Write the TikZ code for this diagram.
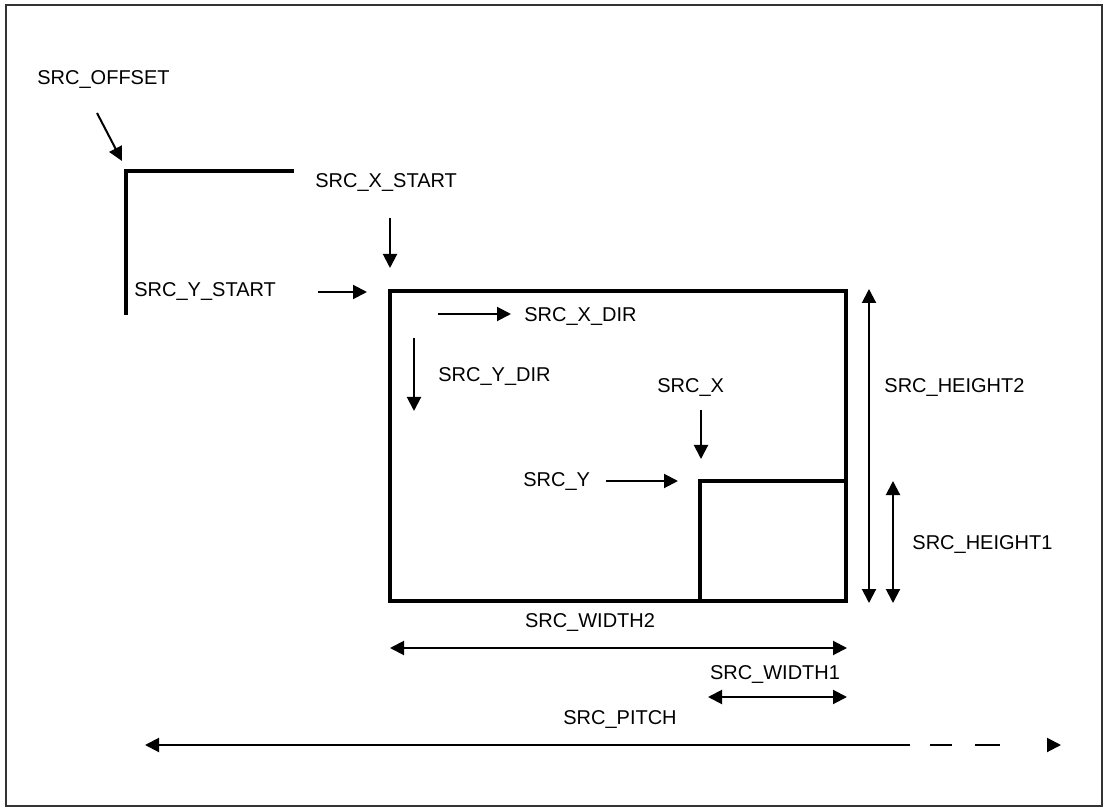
\documentclass[tikz,border=0pt]{standalone}
\usepackage{fontspec}
\setmainfont{Liberation Sans}
\usetikzlibrary{arrows.meta, positioning}

\begin{document}
\begin{tikzpicture}[
    x=0.5pt, y=-0.5pt,
    lbl/.style={inner sep=0pt, anchor=west, font=\fontsize{10}{12}\selectfont},
    ptr/.style={line width=1pt, -{Triangle[length=7pt,width=7pt]}},
    dim/.style={line width=1pt, {Triangle[length=7pt,width=7pt]}-{Triangle[length=7pt,width=7pt]}},
    frame/.style={line width=1.7pt}
]
    \useasboundingbox (0,0) rectangle (1108,812);
    \draw[line width=1pt, black!80] (6,5) rectangle (1102,806);

    % corner of the source surface
    \coordinate (org) at (126,171);
    \draw[frame] (294,171) -- (org) -- (126,315);

    % source rectangle and sub-rectangle
    \coordinate (rtl) at (390,291);
    \coordinate (rbr) at (846,601);
    \coordinate (stl) at (700,481);
    \draw[frame] (rtl) rectangle (rbr);
    \draw[frame] (stl |- rbr) -- (stl) -- (rbr |- stl);

    % labels
    \node (offset) [lbl] at (37,80) {SRC\_OFFSET};
    \node (xstart) [lbl] at (315,183) {SRC\_X\_START};
    \node (ystart) [lbl] at (134,292) {SRC\_Y\_START};
    \node (xdir) [lbl] at (524,317) {SRC\_X\_DIR};
    \node (ydir) [lbl] at (438,377) {SRC\_Y\_DIR};
    \node (srcx) [lbl] at (657,388) {SRC\_X};
    \node (srcy) [lbl] at (523,482) {SRC\_Y};
    \node (height2) [lbl] at (884,388) {SRC\_HEIGHT2};
    \node (height1) [lbl] at (912,545) {SRC\_HEIGHT1};
    \node (width2) [lbl, anchor=center] at (590,623) {SRC\_WIDTH2};
    \node (width1) [lbl, anchor=center] at (775,675) {SRC\_WIDTH1};
    \node (pitch) [lbl, anchor=center] at (620,720) {SRC\_PITCH};

    % pointers
    \coordinate (offA) at (97,113);   \coordinate (offB) at (122,161);
    \coordinate (xsA) at (390,218);   \coordinate (xsB) at (390,268);
    \coordinate (ysA) at (318,292);   \coordinate (ysB) at (367,292);
    \coordinate (xdA) at (438,314);   \coordinate (xdB) at (511,314);
    \coordinate (ydA) at (414,338);   \coordinate (ydB) at (414,411);
    \coordinate (sxA) at (701,410);   \coordinate (sxB) at (701,459);
    \coordinate (syA) at (606,481);   \coordinate (syB) at (678,481);
    \draw[ptr] (offA) -- (offB);
    \draw[ptr] (xsA) -- (xsB);
    \draw[ptr] (ysA) -- (ysB);
    \draw[ptr] (xdA) -- (xdB);
    \draw[ptr] (ydA) -- (ydB);
    \draw[ptr] (sxA) -- (sxB);
    \draw[ptr] (syA) -- (syB);

    % dimensions
    \coordinate (h2T) at (869,289);   \coordinate (h2B) at (869,603);
    \coordinate (h1T) at (893,481);   \coordinate (h1B) at (893,603);
    \coordinate (w2L) at (390,648);   \coordinate (w2R) at (847,648);
    \coordinate (w1L) at (708,697);   \coordinate (w1R) at (847,697);
    \coordinate (pL) at (145,745);    \coordinate (pM) at (910,745);
    \coordinate (pR) at (1061,745);
    \draw[dim] (h2T) -- (h2B);
    \draw[dim] (h1T) -- (h1B);
    \draw[dim] (w2L) -- (w2R);
    \draw[dim] (w1L) -- (w1R);
    \draw[line width=1pt, {Triangle[length=7pt,width=7pt]}-] (pL) -- (pM);
    \draw[ptr, dash pattern=on 0pt off 10pt on 11pt off 11.5pt on 12.5pt off 40pt] (pM) -- (pR);
\end{tikzpicture}
\end{document}
